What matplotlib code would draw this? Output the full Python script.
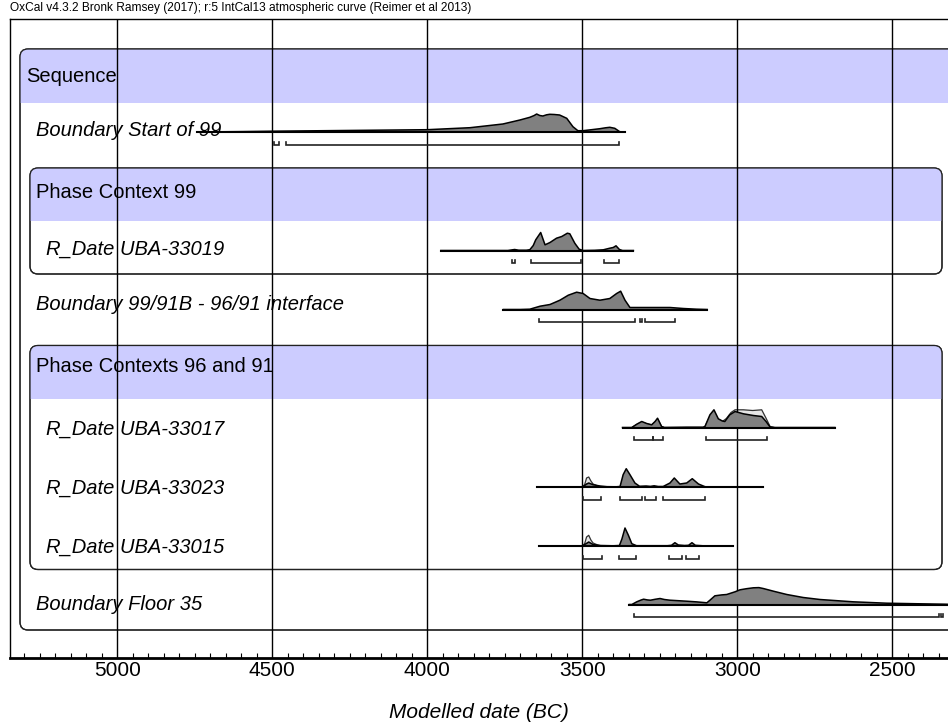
import numpy as np
import matplotlib
matplotlib.use("Agg")
import matplotlib.pyplot as plt
from matplotlib.patches import FancyBboxPatch, Rectangle
from matplotlib.ticker import MultipleLocator

plt.rcParams["font.family"] = ["Liberation Sans", "DejaVu Sans"]

TITLE = "OxCal v4.3.2 Bronk Ramsey (2017); r:5 IntCal13 atmospheric curve (Reimer et al 2013)"
XLABEL = "Modelled date (BC)"
MAJOR_TICKS = [5000, 4500, 4000, 3500, 3000, 2500]

# row labels (italic) for each distribution
row_labels = [
    "Boundary Start of 99",
    "R_Date UBA-33019",
    "Boundary 99/91B - 96/91 interface",
    "R_Date UBA-33017",
    "R_Date UBA-33023",
    "R_Date UBA-33015",
    "Boundary Floor 35",
]

# posterior (modelled) distributions: year BC, relative height
start99_yr = [4743, 4600, 4500, 4300, 4100, 4000, 3862, 3756, 3701, 3669, 3655, 3647, 3637,
              3627, 3615, 3605, 3590, 3573, 3550, 3530, 3514, 3498, 3470, 3443, 3425, 3411,
              3395, 3379, 3362]
start99_p = [0, 0.4, 0.8, 1.4, 2.0, 2.3, 4.3, 8.0, 12.0, 14.7, 16.5, 18.0, 16.5,
             16.0, 17.2, 17.7, 17.5, 17.0, 13.7, 5.3, 1.3, 1.3, 2.3, 3.3, 4.2, 4.7,
             3.7, 0.3, 0]

u33019_yr = [3956, 3740, 3727, 3718, 3705, 3680, 3669, 3658, 3650, 3634, 3620, 3604, 3583,
             3566, 3548, 3540, 3524, 3510, 3497, 3460, 3432, 3411, 3400, 3391, 3380, 3370, 3335]
u33019_p = [0, 0, 0.6, 1.0, 0.3, 0.3, 0.8, 5.0, 10.7, 18.0, 5.7, 8.0, 12.3,
            14.0, 17.3, 16.7, 7.3, 1.3, 0, 0.2, 0.7, 2.3, 3.0, 4.7, 1.0, 0, 0]

iface_yr = [3754, 3700, 3669, 3636, 3604, 3572, 3545, 3518, 3497, 3475, 3443, 3411, 3389,
            3376, 3362, 3346, 3292, 3217, 3174, 3131, 3097]
iface_p = [0, 0, 0.3, 3.3, 5.0, 9.3, 14.3, 17.3, 16.0, 11.0, 9.3, 11.0, 16.0,
           18.3, 9.3, 2.0, 2.0, 2.0, 1.0, 0.3, 0]

u33017_yr = [3370, 3340, 3324, 3308, 3292, 3276, 3265, 3257, 3244, 3235, 3163, 3110, 3104,
             3088, 3075, 3061, 3048, 3040, 3024, 3007, 2980, 2948, 2921, 2907, 2894, 2880, 2685]
u33017_p = [0, 0, 3.3, 6.0, 4.0, 2.7, 6.0, 9.3, 1.0, 0, 0.3, 0.3, 1.0,
            12.7, 17.7, 8.7, 6.5, 6.0, 12.7, 16.0, 13.7, 12.0, 11.0, 6.0, 0.5, 0, 0]

u33023_yr = [3645, 3500, 3492, 3486, 3479, 3465, 3443, 3420, 3390, 3378, 3368, 3358, 3346,
             3330, 3315, 3294, 3280, 3268, 3255, 3239, 3217, 3203, 3185, 3163, 3145, 3125,
             3104, 3090, 2916]
u33023_p = [0, 0, 1.5, 3.0, 4.0, 2.3, 1.0, 0.3, 0.2, 0.5, 12.3, 18.3, 12.3,
            4.0, 0.7, 1.0, 0.6, 1.2, 0.5, 0.5, 4.0, 9.0, 3.0, 4.0, 8.3, 3.0,
            0.3, 0, 0]

u33015_yr = [3640, 3500, 3492, 3479, 3465, 3443, 3400, 3380, 3372, 3362, 3351, 3340, 3325,
             3225, 3212, 3201, 3190, 3170, 3157, 3146, 3135, 3110, 3013]
u33015_p = [0, 0, 1.5, 4.0, 1.5, 0.5, 0.2, 0.5, 7.0, 18.0, 10.7, 2.3, 0.3,
            0.3, 0.7, 3.3, 1.0, 0.5, 0.7, 3.3, 0.7, 0.2, 0]

floor35_yr = [3348, 3340, 3324, 3310, 3302, 3290, 3280, 3265, 3249, 3235, 3217, 3190, 3163,
              3130, 3098, 3088, 3072, 3050, 3034, 3007, 2991, 2970, 2948, 2930, 2916, 2883,
              2840, 2787, 2733, 2626, 2518, 2411, 2330, 2300]
floor35_p = [0, 0, 2.7, 4.5, 5.3, 4.6, 4.3, 5.2, 6.0, 5.0, 4.3, 3.8, 3.3,
             2.6, 1.7, 4.3, 8.7, 9.6, 10.0, 12.7, 14.7, 15.8, 16.7, 16.9, 16.0, 13.3,
             10.0, 7.0, 5.0, 2.7, 1.3, 0.7, 0.3, 0]

# unmodelled (likelihood) distributions shown in light grey
u33017_lik_yr = [3340, 3324, 3308, 3292, 3276, 3265, 3257, 3244, 3235, 3110, 3104, 3088, 3075,
                 3061, 3048, 3035, 3020, 3007, 2980, 2950, 2921, 2907, 2894, 2880]
u33017_lik_p = [0, 3.0, 5.5, 3.7, 2.5, 5.5, 8.5, 1.0, 0, 0, 1.0, 11.0, 15.5,
                8.0, 6.0, 9.0, 15.0, 17.7, 17.7, 17.0, 17.7, 9.3, 1.0, 0]
u33023_lik_yr = [3500, 3492, 3486, 3479, 3472, 3465, 3450, 3435]
u33023_lik_p = [0, 2.5, 9.0, 10.0, 6.0, 3.0, 1.0, 0]
u33015_lik_yr = [3500, 3492, 3486, 3479, 3472, 3465, 3450, 3435]
u33015_lik_p = [0, 2.5, 9.0, 10.7, 6.0, 3.0, 1.0, 0]

# highest posterior density ranges (from, to) in years BC
start99_rng = [(4494, 4477), (4456, 3380)]
u33019_rng = [(3727, 3718), (3666, 3505), (3429, 3381)]
iface_rng = [(3641, 3331), (3314, 3308), (3296, 3201)]
u33017_rng = [(3332, 3273), (3271, 3239), (3101, 2903)]
u33023_rng = [(3497, 3438), (3378, 3306), (3298, 3262), (3239, 3103)]
u33015_rng = [(3497, 3435), (3381, 3327), (3221, 3178), (3164, 3122)]
floor35_rng = [(3333, 2349), (2342, 2336)]

posteriors = [(start99_yr, start99_p), (u33019_yr, u33019_p), (iface_yr, iface_p),
              (u33017_yr, u33017_p), (u33023_yr, u33023_p), (u33015_yr, u33015_p),
              (floor35_yr, floor35_p)]
likelihoods = [None, None, None, (u33017_lik_yr, u33017_lik_p),
               (u33023_lik_yr, u33023_lik_p), (u33015_lik_yr, u33015_lik_p), None]
ranges = [start99_rng, u33019_rng, iface_rng, u33017_rng, u33023_rng, u33015_rng, floor35_rng]

# layout (pixel rows of the 948x726 canvas)
W, H = 948, 726
base_y = [132, 250.5, 309.5, 427.5, 487, 546, 604.5]
label_y = [131, 249, 304, 429, 488, 547, 605]
label_x = [36, 46, 36, 46, 46, 46, 36]
# (x0, y0, x1, y1, band height, header text, text x, text y)
groups = [
    (20, 49, 990, 630, 54, "Sequence", 26, 76),
    (30, 168, 942, 274, 53, "Phase Context 99", 36, 193),
    (30, 345.5, 942, 569.5, 53.5, "Phase Contexts 96 and 91", 36, 366),
]

fig = plt.figure(figsize=(W / 100, H / 100), dpi=100)

# background layer in pixel coordinates for group boxes and labels
bg = fig.add_axes([0, 0, 1, 1], zorder=0)
bg.set_xlim(0, W)
bg.set_ylim(H, 0)
bg.axis("off")

for x0, y0, x1, y1, bh, name, tx, ty in groups:
    box = FancyBboxPatch((x0, y0), x1 - x0, y1 - y0,
                         boxstyle="round,pad=0,rounding_size=8",
                         facecolor="white", edgecolor="#222222", lw=0.9)
    bg.add_patch(box)
    band = FancyBboxPatch((x0, y0), x1 - x0, y1 - y0,
                          boxstyle="round,pad=0,rounding_size=8",
                          facecolor="#ccccff", edgecolor="none")
    bg.add_patch(band)
    clip = Rectangle((x0 - 2, y0 - 2), x1 - x0 + 4, bh + 2, transform=bg.transData)
    band.set_clip_path(clip)
    outline = FancyBboxPatch((x0, y0), x1 - x0, y1 - y0,
                             boxstyle="round,pad=0,rounding_size=8",
                             facecolor="none", edgecolor="#222222", lw=0.9)
    bg.add_patch(outline)
    bg.text(tx, ty, name, fontsize=14.5, va="center", ha="left")

for lab, lx, ly in zip(row_labels, label_x, label_y):
    bg.text(lx, ly, lab, fontsize=14.5, style="italic", va="center", ha="left")

fig.text(10 / W, 1 - 8 / H, TITLE, fontsize=8.6, va="center", ha="left")

# main axes: years BC on x, pixel rows on y
ax_top, ax_bot = 19, 658
ax = fig.add_axes([10 / W, 1 - ax_bot / H, 1 - 10 / W, (ax_bot - ax_top) / H], zorder=1)
ax.patch.set_alpha(0)
ax.set_xlim(5346, 2320)
ax.set_ylim(ax_bot, ax_top)

for i, (yr, p) in enumerate(posteriors):
    y0 = base_y[i]
    lik = likelihoods[i]
    if lik is not None:
        ly = np.array(lik[1])
        ax.fill_between(lik[0], y0, y0 - ly, facecolor="#e6e6e6", edgecolor="none", zorder=2)
        ax.plot(lik[0], y0 - ly, color="#333333", lw=0.9, zorder=2.1)
    pp = np.array(p)
    ax.fill_between(yr, y0, y0 - pp, facecolor="#808080", edgecolor="none", zorder=3)
    ax.plot(yr, y0 - pp, color="black", lw=1.1, zorder=3.1)
    ax.plot([yr[0], yr[-1]], [y0, y0], color="black", lw=1.5, zorder=3.2)
    yb = y0 + 12.5
    for a, b in ranges[i]:
        ax.plot([a, a, b, b], [yb - 3, yb, yb, yb - 3], color="#222222", lw=1.2,
                solid_joinstyle="miter", zorder=3)

ax.set_xticks(MAJOR_TICKS)
ax.set_xticklabels([str(t) for t in MAJOR_TICKS], fontsize=15)
ax.xaxis.set_minor_locator(MultipleLocator(50))
ax.tick_params(axis="x", which="major", length=0, pad=2)
ax.tick_params(axis="x", which="minor", direction="in", length=3.6, width=0.8, color="black")
ax.set_yticks([])
ax.grid(axis="x", which="major", color="black", lw=1, zorder=5)
ax.set_axisbelow(False)
ax.spines["right"].set_visible(False)
ax.spines["left"].set_linewidth(1)
ax.spines["top"].set_linewidth(1)
ax.spines["bottom"].set_linewidth(2)
ax.set_xlabel(XLABEL, fontsize=15, style="italic", labelpad=17)

fig.savefig("out.png", dpi=100)
